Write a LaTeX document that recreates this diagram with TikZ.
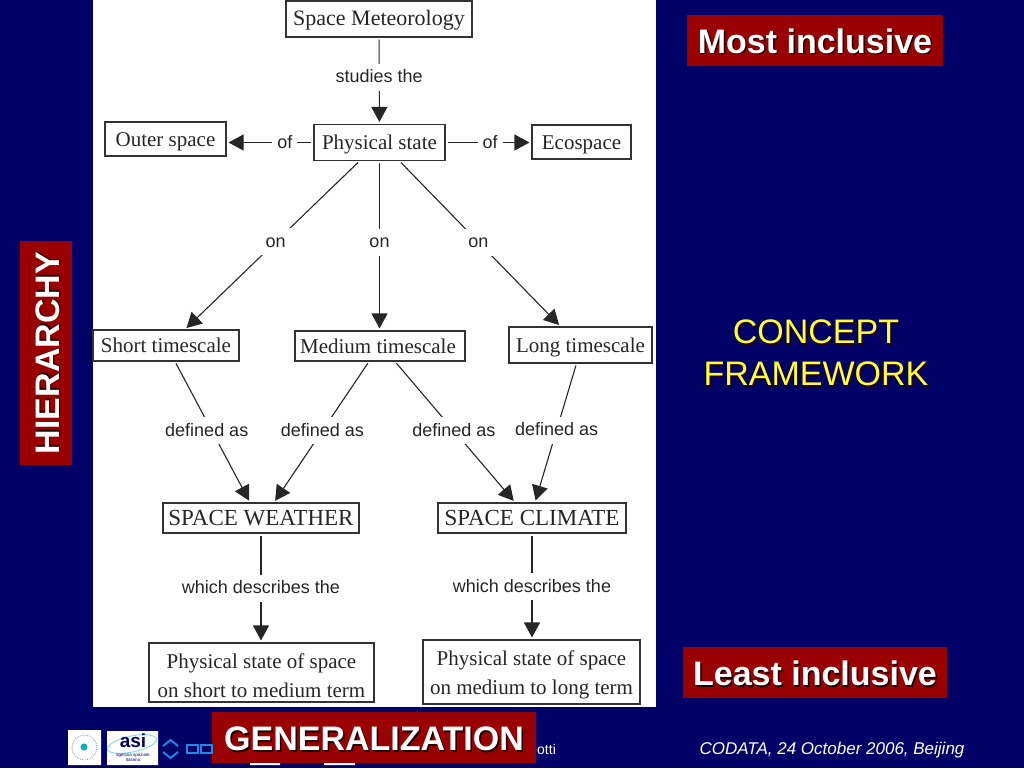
\documentclass[tikz,border=0pt]{standalone}
\usepackage{fontspec}
\setmainfont{Liberation Sans}
\newfontfamily\boxfont{Liberation Serif}
\usetikzlibrary{arrows.meta,calc}
\definecolor{slidebg}{HTML}{000066}
\definecolor{slidered}{HTML}{990000}
\definecolor{conceptyellow}{HTML}{FFFF33}
\definecolor{asiblue}{HTML}{1E88E5}
\newcommand{\shadowed}[1]{\rlap{\kern1.5pt\raisebox{-1.5pt}{\color{black!80!slidered}#1}}#1}
\tikzset{
  termbox/.style={draw=black!80,line width=1.1pt,fill=white,inner sep=0pt,align=center,
    text height=14pt,text depth=0pt,font=\boxfont\fontsize{21}{29}\selectfont,text=black!85},
  linklabel/.style={fill=white,inner sep=5pt,text height=14pt,text depth=3pt,
    font=\fontsize{18}{20}\selectfont,text=black!85},
  link/.style={draw=black!85,line width=1.1pt,shorten <=2pt,shorten >=2pt},
  arrlink/.style={link,-{Triangle[length=15pt,width=16pt]}},
  redbox/.style={fill=slidered,text=white,inner sep=0pt,text height=26pt,text depth=0pt,
    font=\bfseries\fontsize{34}{36}\selectfont}
}

\begin{document}
\begin{tikzpicture}[x=1pt,y=-1pt]
  \useasboundingbox (0,0) rectangle (1024,768);
  \fill[slidebg] (0,0) rectangle (1024,768);
  \fill[white] (93,0) rectangle (656,707);

  % concept boxes
  \node[termbox,minimum width=186pt,minimum height=36pt,font=\boxfont\fontsize{22}{29}\selectfont] (meteo) at (379,19) {Space Meteorology};
  \node[termbox,minimum width=131pt,minimum height=36pt] (state) at (379.5,142.5) {Physical state};
  \node[termbox,minimum width=121pt,minimum height=34pt] (outer) at (165.5,139) {Outer space};
  \node[termbox,minimum width=99pt,minimum height=34pt] (eco) at (581.5,142) {Ecospace};
  \node[termbox,minimum width=146pt,minimum height=31pt] (short) at (166,345.5) {Short timescale};
  \node[termbox,minimum width=170pt,minimum height=30pt] (medium) at (380,346) {Medium timescale\kern4pt};
  \node[termbox,minimum width=143pt,minimum height=36pt] (long) at (580.5,345) {Long timescale};
  \node[termbox,minimum width=196pt,minimum height=30pt,font=\boxfont\fontsize{23}{29}\selectfont] (weather) at (261,518) {SPACE WEATHER};
  \node[termbox,minimum width=188pt,minimum height=30pt,font=\boxfont\fontsize{23}{29}\selectfont] (climate) at (532,518) {SPACE CLIMATE};
  \node[termbox,minimum width=225pt,minimum height=59pt,text height=49pt] (stateshort) at (261.5,672.5) {Physical state of space\\on short to medium term};
  \node[termbox,minimum width=217pt,minimum height=64pt,text height=44pt] (statelong) at (531.5,672) {Physical state of space\\on medium to long term};

  % links
  \draw[arrlink] (meteo) -- node[linklabel,pos=.46] {studies the} (state);
  \draw[arrlink] (state.west) -- node[linklabel,pos=.33] {of} (outer.east |- state.west);
  \draw[arrlink] (state.east) -- node[linklabel,pos=.52] {of} (eco.west |- state.east);
  \draw[arrlink] ([xshift=-20pt]state.south) -- node[linklabel,pos=.48] {on} ([xshift=19pt]short.north);
  \draw[arrlink] (state.south) -- node[linklabel,pos=.48] {on} (state.south |- medium.north);
  \draw[arrlink] ([xshift=20pt]state.south) -- node[linklabel,pos=.49] {on} ([xshift=-20pt]long.north);
  \draw[arrlink] ([xshift=9pt]short.south) -- node[linklabel,pos=.49,xshift=-5pt] {defined as} ([xshift=-11pt]weather.north);
  \draw[arrlink] ([xshift=-11pt]medium.south) -- node[linklabel,pos=.49] {defined as} ([xshift=13pt]weather.north);
  \draw[arrlink] ([xshift=15pt]medium.south) -- node[linklabel,pos=.49] {defined as} ([xshift=-17pt]climate.north);
  \draw[arrlink] ([xshift=-4pt]long.south) -- node[linklabel,pos=.48] {defined as} ([xshift=3pt]climate.north);
  \draw[arrlink] (weather) -- node[linklabel] {which describes the} (weather |- stateshort.north);
  \draw[arrlink] (climate) -- node[linklabel] {which describes the} (climate |- statelong.north);

  % red labels
  \node[redbox,minimum width=256pt,minimum height=51pt] (most) at (815,40.5) {\shadowed{Most inclusive}};
  \node[redbox,minimum width=264pt,minimum height=51pt] (least) at (815,672.5) {\shadowed{Least inclusive}};
  \node[redbox,minimum width=224pt,minimum height=52pt,rotate=90] (hier) at (46,353) {\shadowed{HIERARCHY}};
  \node[redbox,minimum width=324pt,minimum height=51pt] (general) at (374,737.5) {\shadowed{GENERALIZATION}};
  \node[text=conceptyellow,align=center,font=\fontsize{34}{42}\selectfont] (concept) at (816,354) {\shadowed{CONCEPT}\\\shadowed{FRAMEWORK}};

  % footer
  \node[text=white,font=\fontsize{14}{16}\selectfont,anchor=west,inner sep=0pt] (speaker) at (537,749) {otti};
  \node[text=white,font=\itshape\fontsize{17}{18}\selectfont,inner sep=0pt] (codata) at (832,750) {CODATA, 24 October 2006, Beijing};
  \fill[white] (68,730) rectangle (101,765) (107,731) rectangle (158,765);
  \draw[black!40,densely dotted,line width=.8pt] (84.5,747.5) circle (12.5pt);
  \fill[teal!60!cyan] (84,747) circle (3.5pt);
  \draw[cyan!45!white,line width=1pt,rotate around={12:(132,744)}] (132,744) ellipse (25pt and 8pt);
  \node[text=black!60!blue,font=\bfseries\fontsize{19}{19}\selectfont,inner sep=0pt] (asi) at (133,741) {asi};
  \node[text=black!60!blue,font=\fontsize{4.5}{5}\selectfont,align=center,inner sep=0pt] (asiname) at (133,757) {agenzia spaziale\\italiana};
  \draw[asiblue,line width=2pt] (163,746) -- (170.5,740) -- (178,746) (163,752) -- (170.5,758) -- (178,752);
  \draw[asiblue,line width=1.4pt] (187,745) rectangle (198,753) (201,745) rectangle (212,753);
  \fill[white] (250,763) rectangle (280,765) (324,763) rectangle (355,765);
\end{tikzpicture}
\end{document}
